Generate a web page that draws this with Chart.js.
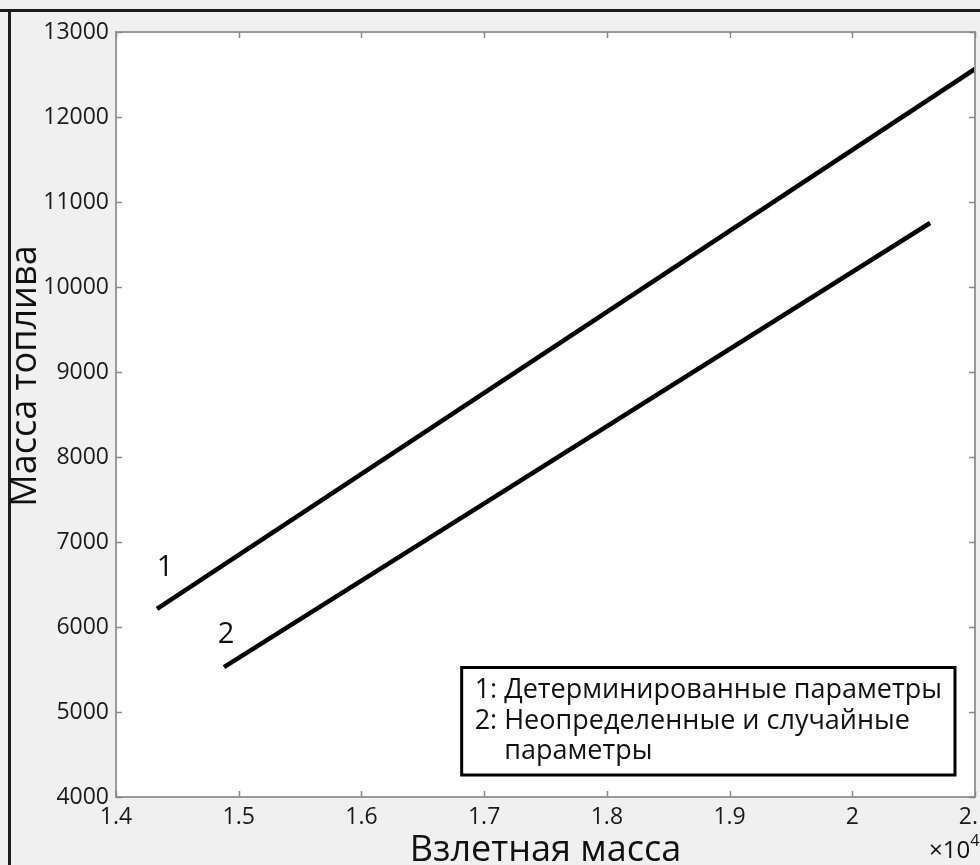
<!DOCTYPE html>
<html>
  <head>
    <meta charset="utf-8" />
    <title>Масса топлива</title>
    <style>
      html, body { margin: 0; padding: 0; background: #f0f0f0; }
      #screen { display: block; }
    </style>
  </head>
  <body>
    <canvas id="screen" width="980" height="865"></canvas>
    <script src="https://cdn.jsdelivr.net/npm/chart.js@4/dist/chart.umd.min.js"></script>
    <script>
      // data (x in kg, axis shown in units of 10^4)
      const massTakeoff1 = [14334, 21000];
      const fuelMass1 = [6212, 12565];
      const massTakeoff2 = [14880, 20634];
      const fuelMass2 = [5529, 10753];

      const seriesNumbers = ["1", "2"];
      const seriesNames = [
        ["1: Детерминированные параметры"],
        ["2: Неопределенные и случайные", "параметры"]
      ];

      const xTitle = "Взлетная масса";
      const yTitle = "Масса топлива";
      const xMultiplier = "×10";
      const xExponent = "4";

      const xMin = 14000, xMax = 21000, xStep = 1000;
      const yMin = 4000, yMax = 13000, yStep = 1000;

      const FONT = "'Open Sans', 'DejaVu Sans', sans-serif";

      function toPoints(xs, ys) {
        return xs.map((x, i) => ({ x: x, y: ys[i] }));
      }

      // offsets of the "1" / "2" labels from the first point of each line
      const labelOffsets = [[8, -41], [2, -32]];

      const decor = {
        id: "decor",
        beforeDraw(chart) {
          const { ctx, width, height, chartArea: a } = chart;
          ctx.save();
          ctx.fillStyle = "#f0f0f0";
          ctx.fillRect(0, 0, width, height);
          ctx.fillStyle = "#1c1c1c";
          ctx.fillRect(0, 9, width, 3);
          ctx.fillRect(8, 9, 3, height - 9);
          ctx.fillStyle = "#ffffff";
          ctx.fillRect(a.left, a.top, a.right - a.left, a.bottom - a.top);
          ctx.restore();
        },
        afterDatasetsDraw(chart) {
          const { ctx, chartArea: a, scales } = chart;
          ctx.save();
          // frame
          ctx.strokeStyle = "#9a9a9a";
          ctx.lineWidth = 2;
          ctx.strokeRect(a.left, a.top, a.right - a.left, a.bottom - a.top);
          // inward ticks on all sides
          ctx.lineWidth = 1.5;
          ctx.strokeStyle = "#8a8a8a";
          const tl = 6;
          scales.x.ticks.forEach(t => {
            const px = Math.round(scales.x.getPixelForValue(t.value)) + 0.5;
            ctx.beginPath();
            ctx.moveTo(px, a.bottom); ctx.lineTo(px, a.bottom - tl);
            ctx.moveTo(px, a.top); ctx.lineTo(px, a.top + tl);
            ctx.stroke();
          });
          scales.y.ticks.forEach(t => {
            const py = Math.round(scales.y.getPixelForValue(t.value)) + 0.5;
            ctx.beginPath();
            ctx.moveTo(a.left, py); ctx.lineTo(a.left + tl, py);
            ctx.moveTo(a.right, py); ctx.lineTo(a.right - tl, py);
            ctx.stroke();
          });

          // line number labels
          ctx.fillStyle = "#111";
          ctx.font = "29px " + FONT;
          ctx.textAlign = "center";
          ctx.textBaseline = "middle";
          chart.data.datasets.forEach((ds, i) => {
            const p = ds.data[0];
            const px = scales.x.getPixelForValue(p.x) + labelOffsets[i][0];
            const py = scales.y.getPixelForValue(p.y) + labelOffsets[i][1];
            ctx.fillText(seriesNumbers[i], px, py);
          });

          // legend box
          ctx.font = "27px " + FONT;
          ctx.textAlign = "left";
          ctx.textBaseline = "middle";
          const lines = [];
          seriesNames.forEach(name => name.forEach((s, j) => lines.push({ s: s, indent: j > 0 })));
          const indentW = ctx.measureText("2: ").width;
          let maxW = 0;
          lines.forEach(l => { maxW = Math.max(maxW, ctx.measureText(l.s).width + (l.indent ? indentW : 0)); });
          const lh = 30.5, padX = 13, padY = 8;
          const bw = maxW + padX * 2;
          const bh = lines.length * lh + padY * 2;
          const bx = a.right - 20 - bw;
          const by = a.bottom - 22 - bh;
          ctx.fillStyle = "#ffffff";
          ctx.fillRect(bx, by, bw, bh);
          ctx.strokeStyle = "#000";
          ctx.lineWidth = 3;
          ctx.strokeRect(bx, by, bw, bh);
          ctx.fillStyle = "#111";
          lines.forEach((l, i) => {
            ctx.fillText(l.s, bx + padX + (l.indent ? indentW : 0), by + padY + lh * (i + 0.5));
          });

          ctx.restore();
        },
        afterDraw(chart) {
          const { ctx } = chart;
          ctx.save();
          ctx.fillStyle = "#111";
          // y title
          ctx.font = "36px " + FONT;
          ctx.textAlign = "center";
          ctx.textBaseline = "middle";
          ctx.translate(26, 376);
          ctx.rotate(-Math.PI / 2);
          ctx.fillText(yTitle, 0, 0);
          ctx.restore();

          // x10^4 multiplier
          ctx.save();
          ctx.fillStyle = "#111";
          ctx.font = "24px " + FONT;
          ctx.textAlign = "left";
          ctx.textBaseline = "alphabetic";
          const mx = 929, my = 858;
          ctx.fillText(xMultiplier, mx, my);
          const w = ctx.measureText(xMultiplier).width;
          ctx.font = "16px " + FONT;
          ctx.fillText(xExponent, mx + w, my - 12);
          ctx.restore();
        }
      };

      const ctx = document.getElementById("screen").getContext("2d");

      const chart = new Chart(ctx, {
        type: "line",
        data: {
          datasets: [
            {
              label: seriesNames[0].join(" "),
              data: toPoints(massTakeoff1, fuelMass1),
              borderColor: "#000",
              borderWidth: 4.5,
              pointRadius: 0,
              fill: false
            },
            {
              label: seriesNames[1].join(" "),
              data: toPoints(massTakeoff2, fuelMass2),
              borderColor: "#000",
              borderWidth: 4.5,
              pointRadius: 0,
              fill: false
            }
          ]
        },
        options: {
          responsive: false,
          animation: false,
          layout: { padding: { left: 0, top: 32, right: 5, bottom: 0 } },
          plugins: {
            legend: { display: false },
            tooltip: { enabled: false }
          },
          scales: {
            x: {
              type: "linear",
              min: xMin,
              max: xMax,
              grid: { display: false, drawTicks: false },
              border: { display: false },
              ticks: {
                stepSize: xStep,
                padding: 7,
                maxRotation: 0,
                autoSkip: false,
                color: "#1a1a1a",
                font: { family: FONT, size: 23 },
                callback: v => String(v / 10000)
              },
              title: {
                display: true,
                text: xTitle,
                color: "#111",
                font: { family: FONT, size: 36 },
                padding: { top: 0, bottom: -7 }
              },
              afterFit(scale) {
                scale.height = 68;
                scale.paddingLeft = 0;
                scale.paddingRight = 0;
              }
            },
            y: {
              type: "linear",
              min: yMin,
              max: yMax,
              grid: { display: false, drawTicks: false },
              border: { display: false },
              ticks: {
                stepSize: yStep,
                padding: 7,
                autoSkip: false,
                color: "#1a1a1a",
                font: { family: FONT, size: 23 },
                callback: v => String(v)
              },
              afterFit(scale) {
                scale.width = 116;
                scale.paddingTop = 0;
                scale.paddingBottom = 0;
              }
            }
          }
        },
        plugins: [decor]
      });
    </script>
  </body>
</html>
